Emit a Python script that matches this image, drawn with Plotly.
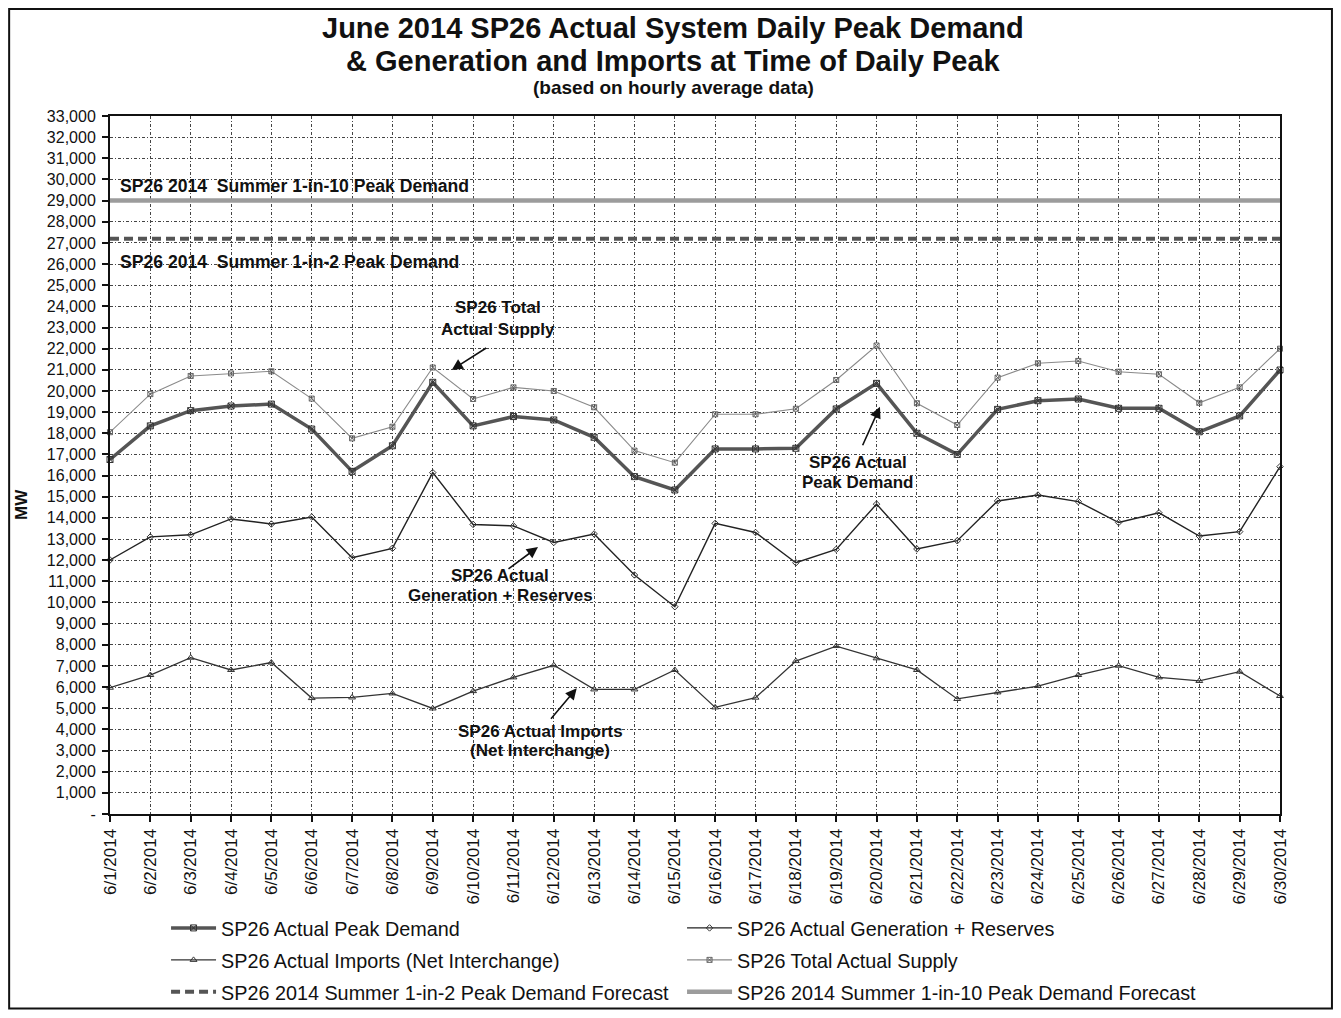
import plotly.graph_objects as go

# ---------------- data ----------------
dates = ["6/%d/2014" % d for d in range(1, 31)]

peak_demand = [16760, 18350, 19070, 19290, 19380, 18200, 16200, 17410, 20410, 18350,
               18790, 18630, 17810, 15950, 15320, 17260, 17260, 17290, 19150, 20360,
               18000, 17000, 19130, 19540, 19620, 19180, 19180, 18070, 18820, 20990]

gen_reserves = [12010, 13100, 13200, 13950, 13710, 14040, 12120, 12560, 16140, 13690,
                13620, 12840, 13240, 11300, 9800, 13740, 13310, 11880, 12510, 14650,
                12530, 12920, 14800, 15080, 14770, 13780, 14240, 13140, 13350, 16420]

imports = [5970, 6570, 7390, 6810, 7160, 5480, 5510, 5700, 4990, 5810,
           6460, 7030, 5890, 5890, 6810, 5040, 5500, 7230, 7940, 7360,
           6810, 5440, 5750, 6050, 6570, 7010, 6460, 6290, 6730, 5580]

total_supply = [18050, 19850, 20710, 20830, 20930, 19640, 17760, 18310, 21110, 19620,
                20170, 20000, 19230, 17180, 16610, 18900, 18900, 19160, 20520, 22150,
                19420, 18390, 20630, 21310, 21420, 20910, 20790, 19440, 20170, 22000]

forecast_1in2 = [27200] * 30
forecast_1in10 = [29000] * 30

y_tick_vals = list(range(0, 34000, 1000))
y_tick_text = ["-" if v == 0 else "{:,}".format(v) for v in y_tick_vals]

FONT = "Arial, Liberation Sans, sans-serif"
INK = "#111111"

fig = go.Figure()

fig.add_trace(go.Scatter(
    x=dates, y=peak_demand, name="SP26 Actual Peak Demand", mode="lines+markers",
    line=dict(color="#555555", width=3.5),
    marker=dict(symbol="square-x-open", size=6, color="#333333", line=dict(width=1)),
    cliponaxis=False, legend="legend"))
fig.add_trace(go.Scatter(
    x=dates, y=gen_reserves, name="SP26 Actual Generation + Reserves", mode="lines+markers",
    line=dict(color="#222222", width=1.4),
    marker=dict(symbol="diamond-open", size=5, color="#333333", line=dict(width=1)),
    cliponaxis=False, legend="legend"))
fig.add_trace(go.Scatter(
    x=dates, y=imports, name="SP26 Actual Imports (Net Interchange)", mode="lines+markers",
    line=dict(color="#333333", width=1.3),
    marker=dict(symbol="triangle-up-open", size=6, color="#333333", line=dict(width=1)),
    cliponaxis=False, legend="legend2"))
fig.add_trace(go.Scatter(
    x=dates, y=total_supply, name="SP26 Total Actual Supply", mode="lines+markers",
    line=dict(color="#8a8a8a", width=1.1),
    marker=dict(symbol="square-x-open", size=5, color="#666666", line=dict(width=1)),
    cliponaxis=False, legend="legend2"))
fig.add_trace(go.Scatter(
    x=dates, y=forecast_1in2, name="SP26 2014 Summer 1-in-2 Peak Demand Forecast", mode="lines",
    line=dict(color="#555555", width=4, dash="9px,5px"), legend="legend3"))
fig.add_trace(go.Scatter(
    x=dates, y=forecast_1in10, name="SP26 2014 Summer 1-in-10 Peak Demand Forecast", mode="lines",
    line=dict(color="#9c9c9c", width=4.5), legend="legend3"))

grid_common = dict(showgrid=True, gridcolor="#444444", gridwidth=1, griddash="3px,2px,1px,2px")

fig.update_xaxes(
    type="category", range=[0, 29], tickangle=-90, automargin=False,
    tickfont=dict(family=FONT, size=17, color=INK),
    ticks="outside", ticklen=6, tickcolor=INK, tickwidth=1.5,
    ticklabelstandoff=0,
    showline=True, linecolor=INK, linewidth=2, mirror=True,
    **grid_common)
fig.update_yaxes(
    range=[0, 33000], tickvals=y_tick_vals, ticktext=y_tick_text, automargin=False,
    tickfont=dict(family=FONT, size=16, color=INK),
    ticks="outside", ticklen=6, tickcolor=INK, tickwidth=1.5,
    ticklabelstandoff=3,
    showline=True, linecolor=INK, linewidth=2, mirror=True,
    zeroline=False,
    **grid_common)


def note(text, x, y, xref="x", yref="y", size=17, xanchor="center", **kw):
    d = dict(text="<b>%s</b>" % text, x=x, y=y, xref=xref, yref=yref, showarrow=False,
             xanchor=xanchor, yanchor="middle", font=dict(family=FONT, size=size, color=INK))
    d.update(kw)
    return d


def arrow(x, y, ax, ay):
    return dict(text="", x=x, y=y, xref="x", yref="y", ax=ax, ay=ay, showarrow=True,
                arrowhead=2, arrowsize=1.4, arrowwidth=1.6, arrowcolor=INK, standoff=0)


annotations = [
    note("June 2014 SP26 Actual System Daily Peak Demand", 0.4815, 1.1261, "paper", "paper", size=29),
    note("& Generation and Imports at Time of Daily Peak", 0.4815, 1.0788, "paper", "paper", size=29),
    note("(based on hourly average data)", 0.4815, 1.0415, "paper", "paper", size=19),
    note("MW", -0.0752, 0.4427, "paper", "paper", size=17, textangle=-90),
    note("SP26 2014  Summer 1-in-10 Peak Demand", 0.0068, 29690, "paper", "y", size=17.6, xanchor="left"),
    note("SP26 2014  Summer 1-in-2 Peak Demand", 0.0068, 26100, "paper", "y", size=17.6, xanchor="left"),
    # Total supply
    note("SP26 Total", 9.617, 23923), note("Actual Supply", 9.617, 22883),
    arrow(8.469, 20991, 36, -23),
    # Peak demand
    note("SP26 Actual", 18.54, 16642), note("Peak Demand", 18.54, 15696),
    arrow(19.085, 19256, -18, 40),
    # Generation
    note("SP26 Actual", 9.667, 11299), note("Generation + Reserves", 9.667, 10354),
    arrow(10.608, 12623, -31, 23),
    # Imports
    note("SP26 Actual Imports", 10.658, 3924), note("(Net Interchange)", 10.658, 2979),
    arrow(11.568, 5943, -27, 32),
]

legend_common = dict(
    orientation="h", x=0.0479, xanchor="left", yanchor="middle", yref="container",
    entrywidth=456, itemwidth=45,
    font=dict(family=FONT, size=19.8, color=INK),
    bgcolor="rgba(0,0,0,0)", traceorder="normal")

fig.update_layout(
    width=1325, height=1002,
    margin=dict(l=102, r=53, t=108, b=196, autoexpand=False),
    paper_bgcolor="white", plot_bgcolor="white",
    font=dict(family=FONT, color=INK),
    annotations=annotations,
    showlegend=True,
    legend=dict(y=0.0818, **legend_common),
    legend2=dict(y=0.0499, **legend_common),
    legend3=dict(y=0.0180, **legend_common),
    shapes=[dict(type="rect", xref="paper", yref="paper",
                 x0=-0.0862, x1=1.0444, y0=-0.2787, y1=1.1533,
                 line=dict(color=INK, width=2), fillcolor="rgba(0,0,0,0)", layer="below")],
)

fig.write_html("out.html")
